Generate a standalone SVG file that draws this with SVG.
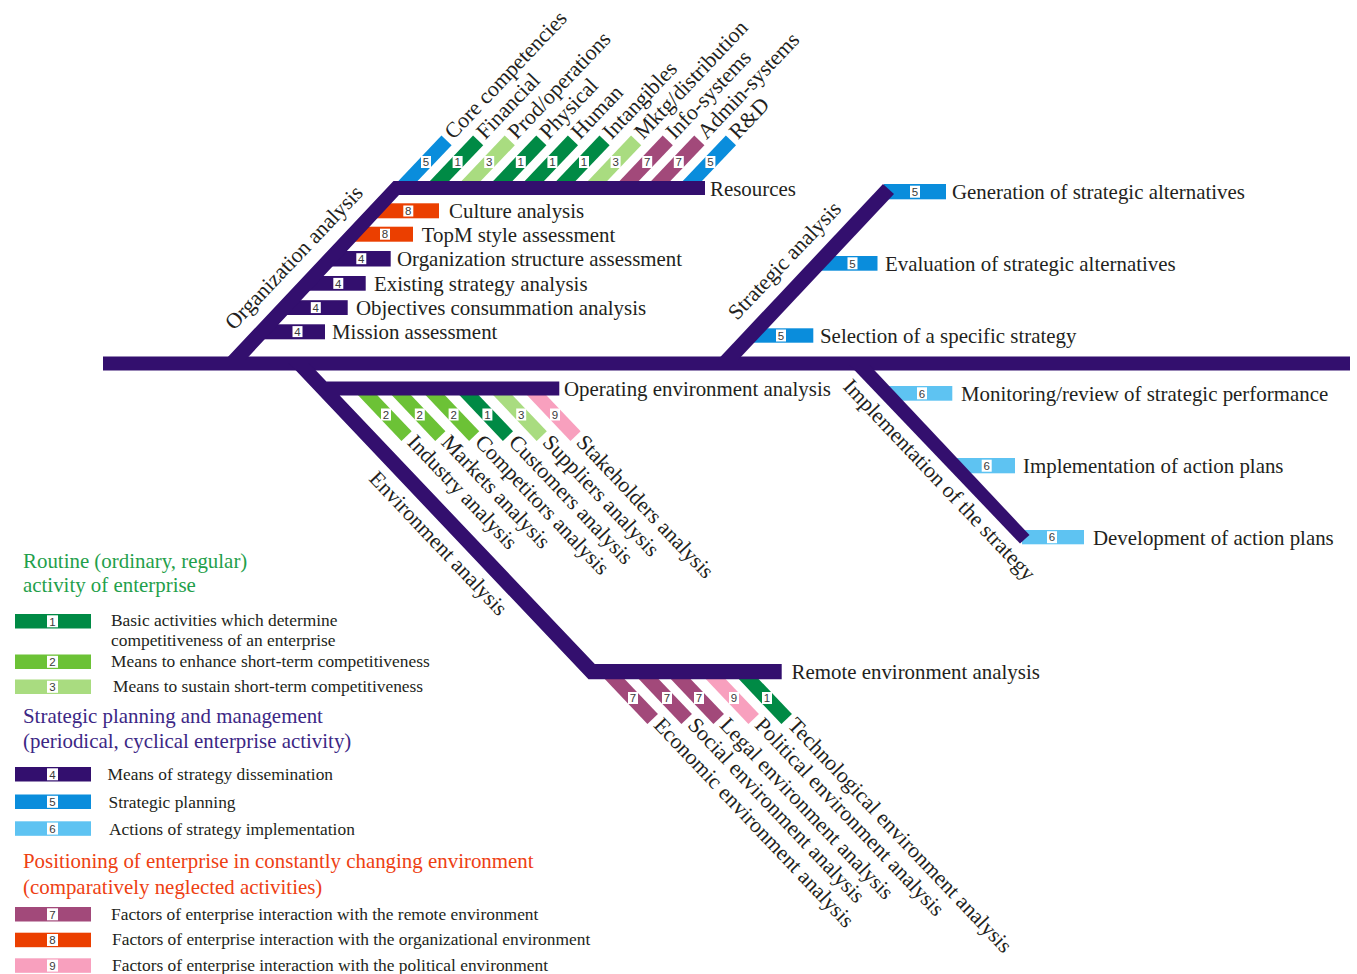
<svg xmlns="http://www.w3.org/2000/svg" width="1357" height="974" viewBox="0 0 1357 974">
<style>
.c1{fill:#008a45}.c2{fill:#6cc236}.c3{fill:#a9dc80}.c4{fill:#330f6e}.c5{fill:#0a8ddc}.c6{fill:#5ec3f2}.c7{fill:#a2497a}.c8{fill:#eb3f00}.c9{fill:#f8a0be}
.nb{fill:#fff}
.nt{font-family:"Liberation Sans",Arial,sans-serif;font-size:11.5px;fill:#3a3a3a;text-anchor:middle}
.lb{font-family:"Liberation Serif","Times New Roman",serif;font-size:20.9px;fill:#231f20}
.rl{font-family:"Liberation Serif","Times New Roman",serif;font-size:21.8px;fill:#231f20}
.lt{font-family:"Liberation Serif","Times New Roman",serif;font-size:17.4px;fill:#231f20}
.ti{font-family:"Liberation Serif","Times New Roman",serif;font-size:20.9px}
.tg{fill:#1fa04b}.tp{fill:#3c2785}.to{fill:#ee4012}
</style>
<rect width="1357" height="974" fill="#fff"/>

<!-- Resources sub-items -->
<g id="n-core"><g transform="translate(408,181) rotate(-46.5)"><rect class="c5" x="-8" y="-7" width="64" height="14"/><text class="rl" x="61" y="5">Core competencies</text></g><rect class="nb" x="421" y="156" width="10" height="12"/><text class="nt" x="426" y="166.2">5</text></g>
<g id="n-financial"><g transform="translate(439.6,181) rotate(-46.5)"><rect class="c1" x="-8" y="-7" width="64" height="14"/><text class="rl" x="61" y="5">Financial</text></g><rect class="nb" x="452.6" y="156" width="10" height="12"/><text class="nt" x="457.6" y="166.2">1</text></g>
<g id="n-prod"><g transform="translate(471.2,181) rotate(-46.5)"><rect class="c3" x="-8" y="-7" width="64" height="14"/><text class="rl" x="61" y="5">Prod/operations</text></g><rect class="nb" x="484.2" y="156" width="10" height="12"/><text class="nt" x="489.2" y="166.2">3</text></g>
<g id="n-physical"><g transform="translate(502.8,181) rotate(-46.5)"><rect class="c1" x="-8" y="-7" width="64" height="14"/><text class="rl" x="61" y="5">Physical</text></g><rect class="nb" x="515.8" y="156" width="10" height="12"/><text class="nt" x="520.8" y="166.2">1</text></g>
<g id="n-human"><g transform="translate(534.4,181) rotate(-46.5)"><rect class="c1" x="-8" y="-7" width="64" height="14"/><text class="rl" x="61" y="5">Human</text></g><rect class="nb" x="547.4" y="156" width="10" height="12"/><text class="nt" x="552.4" y="166.2">1</text></g>
<g id="n-intangibles"><g transform="translate(566,181) rotate(-46.5)"><rect class="c1" x="-8" y="-7" width="64" height="14"/><text class="rl" x="61" y="5">Intangibles</text></g><rect class="nb" x="579" y="156" width="10" height="12"/><text class="nt" x="584" y="166.2">1</text></g>
<g id="n-mktg"><g transform="translate(597.6,181) rotate(-46.5)"><rect class="c3" x="-8" y="-7" width="64" height="14"/><text class="rl" x="61" y="5">Mktg/distribution</text></g><rect class="nb" x="610.6" y="156" width="10" height="12"/><text class="nt" x="615.6" y="166.2">3</text></g>
<g id="n-info"><g transform="translate(629.2,181) rotate(-46.5)"><rect class="c7" x="-8" y="-7" width="64" height="14"/><text class="rl" x="61" y="5">Info-systems</text></g><rect class="nb" x="642.2" y="156" width="10" height="12"/><text class="nt" x="647.2" y="166.2">7</text></g>
<g id="n-admin"><g transform="translate(660.8,181) rotate(-46.5)"><rect class="c7" x="-8" y="-7" width="64" height="14"/><text class="rl" x="61" y="5">Admin-systems</text></g><rect class="nb" x="673.8" y="156" width="10" height="12"/><text class="nt" x="678.8" y="166.2">7</text></g>
<g id="n-rd"><g transform="translate(692.4,181) rotate(-46.5)"><rect class="c5" x="-8" y="-7" width="64" height="14"/><text class="rl" x="61" y="5">R&amp;D</text></g><rect class="nb" x="705.4" y="156" width="10" height="12"/><text class="nt" x="710.4" y="166.2">5</text></g>

<!-- Operating environment sub-items -->
<g id="n-industry"><g transform="translate(368,395.5) rotate(46.5)"><rect class="c2" x="-8" y="-7" width="64" height="14"/><text class="rl" x="61" y="5">Industry analysis</text></g><rect class="nb" x="381" y="408.5" width="10" height="12"/><text class="nt" x="386" y="418.7">2</text></g>
<g id="n-markets"><g transform="translate(401.8,395.5) rotate(46.5)"><rect class="c2" x="-8" y="-7" width="64" height="14"/><text class="rl" x="61" y="5">Markets analysis</text></g><rect class="nb" x="414.8" y="408.5" width="10" height="12"/><text class="nt" x="419.8" y="418.7">2</text></g>
<g id="n-competitors"><g transform="translate(435.6,395.5) rotate(46.5)"><rect class="c2" x="-8" y="-7" width="64" height="14"/><text class="rl" x="61" y="5">Competitors analysis</text></g><rect class="nb" x="448.6" y="408.5" width="10" height="12"/><text class="nt" x="453.6" y="418.7">2</text></g>
<g id="n-customers"><g transform="translate(469.4,395.5) rotate(46.5)"><rect class="c1" x="-8" y="-7" width="64" height="14"/><text class="rl" x="61" y="5">Customers analysis</text></g><rect class="nb" x="482.4" y="408.5" width="10" height="12"/><text class="nt" x="487.4" y="418.7">1</text></g>
<g id="n-suppliers"><g transform="translate(503.2,395.5) rotate(46.5)"><rect class="c3" x="-8" y="-7" width="64" height="14"/><text class="rl" x="61" y="5">Suppliers analysis</text></g><rect class="nb" x="516.2" y="408.5" width="10" height="12"/><text class="nt" x="521.2" y="418.7">3</text></g>
<g id="n-stakeholders"><g transform="translate(537,395.5) rotate(46.5)"><rect class="c9" x="-8" y="-7" width="64" height="14"/><text class="rl" x="61" y="5">Stakeholders analysis</text></g><rect class="nb" x="550" y="408.5" width="10" height="12"/><text class="nt" x="555" y="418.7">9</text></g>

<!-- Remote environment sub-items -->
<g id="n-economic"><g transform="translate(615,679) rotate(46.5)"><rect class="c7" x="-8" y="-7" width="63" height="14.5"/><text class="rl" x="60" y="5">Economic environment analysis</text></g><rect class="nb" x="628" y="692" width="10" height="12"/><text class="nt" x="633" y="702.2">7</text></g>
<g id="n-social"><g transform="translate(649,679) rotate(46.5)"><rect class="c7" x="-8" y="-7" width="63" height="14.5"/><text class="rl" x="60" y="5">Social environment analysis</text></g><rect class="nb" x="662" y="692" width="10" height="12"/><text class="nt" x="667" y="702.2">7</text></g>
<g id="n-legal"><g transform="translate(681,679) rotate(46.5)"><rect class="c7" x="-8" y="-7" width="63" height="14.5"/><text class="rl" x="60" y="5">Legal environment analysis</text></g><rect class="nb" x="694" y="692" width="10" height="12"/><text class="nt" x="699" y="702.2">7</text></g>
<g id="n-political"><g transform="translate(716,679) rotate(46.5)"><rect class="c9" x="-8" y="-7" width="63" height="14.5"/><text class="rl" x="60" y="5">Political environment analysis</text></g><rect class="nb" x="729" y="692" width="10" height="12"/><text class="nt" x="734" y="702.2">9</text></g>
<g id="n-technological"><g transform="translate(749,679) rotate(46.5)"><rect class="c1" x="-8" y="-7" width="63" height="14.5"/><text class="rl" x="60" y="5">Technological environment analysis</text></g><rect class="nb" x="762" y="692" width="10" height="12"/><text class="nt" x="767" y="702.2">1</text></g>

<!-- Strategic analysis sub-items -->
<g id="n-generation"><rect class="c5" x="884" y="184" width="62" height="15.3"/><rect class="nb" x="910" y="185.7" width="10" height="12"/><text class="nt" x="915" y="195.9">5</text><text class="lb" x="952" y="198.5">Generation of strategic alternatives</text></g>
<g id="n-evaluation"><rect class="c5" x="818" y="256" width="59.5" height="14.7"/><rect class="nb" x="847.5" y="257.3" width="10" height="12"/><text class="nt" x="852.5" y="267.5">5</text><text class="lb" x="885" y="270.5">Evaluation of strategic alternatives</text></g>
<g id="n-selection"><rect class="c5" x="750.5" y="328.3" width="62.8" height="14.4"/><rect class="nb" x="776" y="329.5" width="10" height="12"/><text class="nt" x="781" y="339.7">5</text><text class="lb" x="820" y="342.5">Selection of a specific strategy</text></g>

<!-- Implementation sub-items -->
<g id="n-monitoring"><rect class="c6" x="886.5" y="386" width="65.8" height="14.7"/><rect class="nb" x="917" y="387.3" width="10" height="12"/><text class="nt" x="922" y="397.5">6</text><text class="lb" x="961" y="400.5">Monitoring/review of strategic performance</text></g>
<g id="n-implementation"><rect class="c6" x="955" y="458" width="60" height="15.3"/><rect class="nb" x="981.7" y="459.7" width="10" height="12"/><text class="nt" x="986.7" y="469.9">6</text><text class="lb" x="1023" y="473">Implementation of action plans</text></g>
<g id="n-development"><rect class="c6" x="1022" y="530" width="62" height="14.3"/><rect class="nb" x="1047" y="531.2" width="10" height="12"/><text class="nt" x="1052" y="541.4">6</text><text class="lb" x="1093" y="544.5">Development of action plans</text></g>

<!-- Organization sub-items -->
<g id="n-culture"><rect class="c8" x="375" y="203.3" width="64" height="15"/><rect class="nb" x="403.3" y="205.5" width="10" height="11"/><text class="nt" x="408.3" y="215.1">8</text><text class="lb" x="449" y="218">Culture analysis</text></g>
<g id="n-topm"><rect class="c8" x="353" y="226.7" width="60" height="15"/><rect class="nb" x="380" y="228.7" width="10" height="11"/><text class="nt" x="385" y="238.3">8</text><text class="lb" x="421.7" y="241.5">TopM style assessment</text></g>
<g id="n-orgstruct"><rect class="c4" x="330" y="251" width="60.7" height="15.5"/><rect class="nb" x="356.3" y="253.2" width="10" height="11"/><text class="nt" x="361.3" y="262.8">4</text><text class="lb" x="397" y="266">Organization structure assessment</text></g>
<g id="n-existing"><rect class="c4" x="307" y="276" width="58.7" height="14.7"/><rect class="nb" x="333.3" y="277.9" width="10" height="11"/><text class="nt" x="338.3" y="287.5">4</text><text class="lb" x="374" y="290.5">Existing strategy analysis</text></g>
<g id="n-objectives"><rect class="c4" x="284.4" y="300.2" width="63.3" height="14.8"/><rect class="nb" x="310.8" y="302.1" width="10" height="11"/><text class="nt" x="315.8" y="311.7">4</text><text class="lb" x="356" y="314.5">Objectives consummation analysis</text></g>
<g id="n-mission"><rect class="c4" x="261.8" y="324.3" width="63.2" height="15"/><rect class="nb" x="292.5" y="326.1" width="10" height="11"/><text class="nt" x="297.5" y="335.7">4</text><text class="lb" x="332" y="339">Mission assessment</text></g>

<!-- Connectors: spine and branches -->
<g id="connectors" class="c4">
<rect x="103" y="356.5" width="1247" height="14"/>
<polygon points="225,360 393.5,181 705,181 705,195 399,195 245.5,360"/>
<polygon points="717.5,360 883,184 894,194 738,360"/>
<polygon points="849.5,365 869.5,365 1029.5,535 1020,543.5"/>
<polygon points="288.8,363 308.8,363 326.4,381.5 559.3,381.5 559.3,395.5 339.7,395.5 594.8,664 781.7,664 781.7,679.3 588.5,679.3"/>
</g>

<!-- Branch labels -->
<g id="branch-labels">
<text class="lb" x="710" y="195.5">Resources</text>
<text class="lb" x="564" y="396">Operating environment analysis</text>
<text class="lb" x="791.5" y="679">Remote environment analysis</text>
<text class="rl" transform="translate(234,331) rotate(-46.5)">Organization analysis</text>
<text class="rl" transform="translate(737,321) rotate(-46.5)">Strategic analysis</text>
<text class="rl" transform="translate(368,479.5) rotate(46.5)">Environment analysis</text>
<text class="rl" transform="translate(842,387.5) rotate(46.5)">Implementation of the strategy</text>
</g>

<!-- Legend -->
<g id="legend">
<text class="ti tg" x="23" y="568">Routine (ordinary, regular)</text>
<text class="ti tg" x="23" y="592">activity of enterprise</text>
<g id="lg1"><rect class="c1" x="15" y="614" width="76" height="14.5"/><rect class="nb" x="47" y="615.3" width="11" height="12"/><text class="nt" x="52.5" y="625.5">1</text><text class="lt" x="111" y="625.5">Basic activities which determine</text><text class="lt" x="111" y="646">competitiveness of an enterprise</text></g>
<g id="lg2"><rect class="c2" x="15" y="654.5" width="76" height="14.5"/><rect class="nb" x="47" y="655.8" width="11" height="12"/><text class="nt" x="52.5" y="666">2</text><text class="lt" x="111" y="667">Means to enhance short-term competitiveness</text></g>
<g id="lg3"><rect class="c3" x="15" y="679.5" width="76" height="14.5"/><rect class="nb" x="47" y="680.8" width="11" height="12"/><text class="nt" x="52.5" y="691">3</text><text class="lt" x="113" y="692">Means to sustain short-term competitiveness</text></g>
<text class="ti tp" x="23" y="723">Strategic planning and management</text>
<text class="ti tp" x="23" y="748">(periodical, cyclical enterprise activity)</text>
<g id="lg4"><rect class="c4" x="15" y="767" width="76" height="14.5"/><rect class="nb" x="47" y="768.3" width="11" height="12"/><text class="nt" x="52.5" y="778.5">4</text><text class="lt" x="107.5" y="780">Means of strategy dissemination</text></g>
<g id="lg5"><rect class="c5" x="15" y="794.5" width="76" height="14.5"/><rect class="nb" x="47" y="795.8" width="11" height="12"/><text class="nt" x="52.5" y="806">5</text><text class="lt" x="108.5" y="808">Strategic planning</text></g>
<g id="lg6"><rect class="c6" x="15" y="821.3" width="76" height="14.5"/><rect class="nb" x="47" y="822.6" width="11" height="12"/><text class="nt" x="52.5" y="832.8">6</text><text class="lt" x="109" y="835">Actions of strategy implementation</text></g>
<text class="ti to" x="23" y="868">Positioning of enterprise in constantly changing environment</text>
<text class="ti to" x="23" y="893.5">(comparatively neglected activities)</text>
<g id="lg7"><rect class="c7" x="15" y="907" width="76" height="14.5"/><rect class="nb" x="47" y="908.3" width="11" height="12"/><text class="nt" x="52.5" y="918.5">7</text><text class="lt" x="111" y="920">Factors of enterprise interaction with the remote environment</text></g>
<g id="lg8"><rect class="c8" x="15" y="932.7" width="76" height="14.5"/><rect class="nb" x="47" y="934" width="11" height="12"/><text class="nt" x="52.5" y="944.2">8</text><text class="lt" x="112" y="945">Factors of enterprise interaction with the organizational environment</text></g>
<g id="lg9"><rect class="c9" x="15" y="958.3" width="76" height="14.5"/><rect class="nb" x="47" y="959.6" width="11" height="12"/><text class="nt" x="52.5" y="969.8">9</text><text class="lt" x="112" y="970.5">Factors of enterprise interaction with the political environment</text></g>
</g>
</svg>
